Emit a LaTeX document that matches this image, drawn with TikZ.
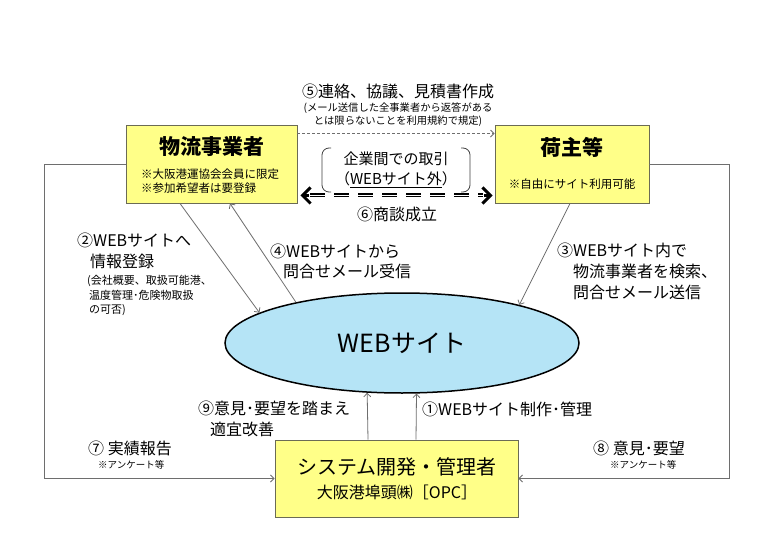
\documentclass[tikz,border=0pt]{standalone}
\usepackage{fontspec}
\setmainfont{Noto Sans CJK JP}
\usetikzlibrary{arrows.meta,shapes.geometric,calc}
\definecolor{boxfill}{HTML}{FFFF88}
\definecolor{boxline}{HTML}{6B6B55}
\definecolor{webfill}{HTML}{B5E4F6}
\definecolor{connc}{HTML}{6E6E6E}
\newcommand{\fsz}[2]{\fontsize{#1}{#2}\selectfont}
\begin{document}
\begin{tikzpicture}[x=1pt,y=-1pt,
  box/.style={draw=boxline, fill=boxfill, line width=0.9pt, inner sep=0pt},
  link/.style={draw=connc, line width=0.8pt, -{Straight Barb[length=3.5pt,width=7pt]}},
  lbl/.style={inner sep=0pt, anchor=west, align=left},
  txt/.style={inner sep=0pt, align=center},
  bracketline/.style={draw=black!75, line width=0.8pt, rounded corners=7pt},
  dealline/.style={draw=black, line width=1.2pt, double=white, double distance=1.6pt, dash pattern=on 15pt off 9pt},
  dealtip/.style={draw=black, line width=3pt, -{Straight Barb[length=8pt,width=16pt]}}
]
\useasboundingbox (0,0) rectangle (775,537);
\fill[white] (0,0) rectangle (775,537);

% boxes
\node[box, minimum width=171pt, minimum height=78pt] (A) at (211.5,164) {};
\node[box, minimum width=154pt, minimum height=78pt] (B) at (572,164) {};
\node[box, minimum width=243pt, minimum height=77pt] (C) at (396.5,478.5) {};
\node[ellipse, draw=black, line width=1.5pt, fill=webfill, minimum width=354pt, minimum height=100pt, inner sep=0pt, font=\fsz{25}{28}] (W) at (402,343) {WEBサイト};

% box texts
\node[txt, font=\fsz{21}{24}\bfseries] (At) at (211.5,147) {物流事業者};
\node[lbl, font=\fsz{11.5}{14}] (An) at (141,181) {※大阪港運協会会員に限定\\※参加希望者は要登録};
\node[txt, font=\fsz{21}{24}\bfseries] (Bt) at (572,147) {荷主等};
\node[txt, font=\fsz{11.5}{14}] (Bn) at (572,184) {※自由にサイト利用可能};
\node[txt, font=\fsz{20}{24}] (Ct) at (397,467) {システム開発・管理者};
\node[txt, font=\fsz{16}{20}] (Cn) at (397,492) {大阪港埠頭㈱［OPC］};

% top texts
\node[txt, font=\fsz{16}{20}] (t5) at (398,91) {⑤連絡、協議、見積書作成};
\node[txt, font=\fsz{10.3}{13}] (t5n) at (398,114.5) {(メール送信した全事業者から返答がある\\とは限らないことを利用規約で規定)};
\node[txt, font=\fsz{15}{20}] (deal) at (396,170) {企業間での取引\\（\underline{WEBサイト外}）};
\node[txt, font=\fsz{16}{20}] (t6) at (397,214) {⑥商談成立};

% brackets
\draw[bracketline] (331,148) -- (322,148) -- (322,192) -- (331,192);
\draw[bracketline] (461,148) -- (470,148) -- (470,192) -- (461,192);

% labels
\node[lbl, font=\fsz{16}{21}] (t2) at (77,250.5) {②WEBサイトへ\\\hspace*{13pt}情報登録};
\node[lbl, font=\fsz{11}{14.5}] (t2n) at (87,295.5) {(会社概要、取扱可能港、\\\hspace*{2pt}温度管理･危険物取扱\\\hspace*{2pt}の可否)};
\node[lbl, font=\fsz{16}{20}] (t4) at (270,261) {④WEBサイトから\\\hspace*{13pt}問合せメール受信};
\node[lbl, font=\fsz{16}{21}] (t3) at (557,271) {③WEBサイト内で\\\hspace*{16pt}物流事業者を検索、\\\hspace*{16pt}問合せメール送信};
\node[lbl, font=\fsz{16}{21}] (t9) at (198,418.5) {⑨意見･要望を踏まえ\\\hspace*{12pt}適宜改善};
\node[lbl, font=\fsz{16}{20}] (t1) at (422,409) {①WEBサイト制作･管理};
\node[lbl, font=\fsz{16}{20}] (t7) at (88,448) {⑦ 実績報告};
\node[lbl, font=\fsz{9.5}{12}] (t7n) at (98,465) {※アンケート等};
\node[lbl, font=\fsz{16}{20}] (t8) at (593,448) {⑧ 意見･要望};
\node[lbl, font=\fsz{9.5}{12}] (t8n) at (610,465) {※アンケート等};

% connectors
\draw[link, dash pattern=on 3pt off 2pt] ([yshift=-9pt]A.north east) -- ([yshift=-9pt]B.north west);

\coordinate (dl) at ([xshift=3pt,yshift=8pt]A.south east);
\coordinate (dr) at ([xshift=-2pt,yshift=8pt]B.south west);
\draw[dealline] ([xshift=10pt]dl) -- ([xshift=-10pt]dr);
\draw[dealtip] ([xshift=9pt]dl) -- (dl);
\draw[dealtip] ([xshift=-9pt]dr) -- (dr);

\draw[link] (A.west) -- ++(-81,0) |- (C.west);
\draw[link] (B.east) -- ++(80,0) |- (C.east);

\draw[link] ([xshift=-31.5pt]A.south) -- (W.168.5);
\draw[link] (W.159.3) -- ([xshift=18.5pt]A.south);
\draw[link] ([xshift=-2pt]B.south) -- (W.18.1);
\draw[link] ([xshift=19.5pt]C.north) -- (W.-74.3);
\draw[link] ([xshift=-28.5pt]C.north) -- (W.235.3);
\end{tikzpicture}
\end{document}
